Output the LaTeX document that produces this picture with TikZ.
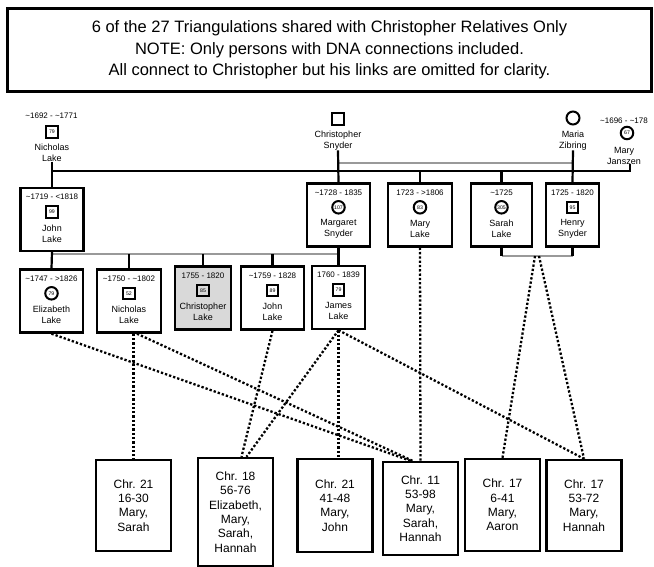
\documentclass[tikz,border=0pt]{standalone}
\usepackage{fontspec}
\setmainfont{Liberation Sans}
\usetikzlibrary{%
  positioning
 ,calc
}
\tikzstyle{title}=[draw,line width=2.4pt,minimum width=644pt,minimum height=83pt,align=center,inner sep=0pt,font=\fontsize{16.5}{21.5}\selectfont]
\tikzstyle{pbox}=[draw,line width=2.4pt,minimum height=63pt,inner sep=0pt]
\tikzstyle{dates}=[font=\fontsize{8}{9}\selectfont,inner sep=0pt]
\tikzstyle{pname}=[font=\fontsize{9}{11}\selectfont,align=center,inner sep=0pt]
\tikzstyle{male}=[draw,rectangle,line width=2pt,minimum size=11.5pt,inner sep=0pt,font=\fontsize{5.2}{6}\selectfont]
\tikzstyle{female}=[draw,circle,line width=2pt,minimum size=12.5pt,inner sep=0pt,font=\fontsize{5.2}{6}\selectfont]
\tikzstyle{chrbox}=[draw,line width=2.4pt,minimum width=75pt,align=center,inner sep=0pt,font=\fontsize{12}{14.3}\selectfont]
\tikzstyle{fam}=[line width=2.2pt]
\tikzstyle{spouse}=[line width=2pt,black!40]
\tikzstyle{dna}=[line width=2.3pt,dotted]
% box with dates, symbol and name
\newcommand{\person}[7]{%
  \node[pbox,#3] (#1) at #2 {};
  \node[dates] (#1-d) at ($(#1.north)+(0,10)$) {#4};
  \node[#5] (#1-s) at ($(#1.north)+(0,25)$) {#6};
  \node[pname] (#1-n) at ($(#1.north)+(0,46.5)$) {#7};
}

\begin{document}
\begin{tikzpicture}[x=1pt,y=-1pt]
  \useasboundingbox (0,0) rectangle (654,567);
  \node[title] (head) at (329.5,50) {6 of the 27 Triangulations shared with Christopher Relatives Only\\NOTE: Only persons with DNA connections included.\\All connect to Christopher but his links are omitted for clarity.};

  % oldest generation
  \node[dates] (nichT-d) at (51.5,116) {\textasciitilde1692 - \textasciitilde1771};
  \node[male] (nichT-s) at (52,132) {79};
  \node[pname] (nichT-n) at (52,152.5) {Nicholas\\Lake};
  \node[male,minimum size=12pt,line width=1.6pt] (csny-s) at (338,119) {};
  \node[pname] (csny-n) at (338,140.5) {Christopher\\Snyder};
  \node[female,minimum size=13pt] (maria-s) at (573,118) {};
  \node[pname] (maria-n) at (573,140.5) {Maria\\Zibring};
  \node[dates,anchor=west] (jansz-d) at (600,121) {\textasciitilde1696 - \textasciitilde178};
  \node[female] (jansz-s) at (627,133) {67};
  \node[pname] (jansz-n) at (624,155.5) {Mary\\Janszen};

  % children
  \person{jlakeA}{(52,219.5)}{minimum width=63pt}{\textasciitilde1719 - <1818}{male}{99}{John\\Lake}
  \person{margS}{(338.5,215)}{minimum width=63pt}{\textasciitilde1728 - 1835}{female}{107}{Margaret\\Snyder}
  \person{maryL}{(420,215)}{minimum width=64pt}{1723 - >1806}{female}{83}{Mary\\Lake}
  \person{sarahL}{(501.5,215)}{minimum width=61pt}{\textasciitilde1725}{female}{305}{Sarah\\Lake}
  \person{henryS}{(572.5,215)}{minimum width=53pt}{1725 - 1820}{male}{95}{Henry\\Snyder}

  % grandchildren
  \person{elizL}{(51.5,301)}{minimum width=63pt}{\textasciitilde1747 - >1826}{female}{79}{Elizabeth\\Lake}
  \person{nichL}{(129,301)}{minimum width=64pt}{\textasciitilde1750 - \textasciitilde1802}{male}{52}{Nicholas\\Lake}
  \person{chrisL}{(203,298)}{minimum width=56pt,fill=black!15}{1755 - 1820}{male}{85}{Christopher\\Lake}
  \person{jlakeB}{(272.5,298)}{minimum width=63pt}{\textasciitilde1759 - 1828}{male}{89}{John\\Lake}
  \person{jamesL}{(338.5,297.5)}{minimum width=53pt}{1760 - 1839}{male}{79}{James\\Lake}

  % triangulations
  \node[chrbox,minimum height=91pt] (chr21a) at (133.5,505.5) {Chr. 21\\16-30\\Mary,\\Sarah};
  \node[chrbox,minimum height=108pt] (chr18) at (235.5,512) {Chr. 18\\56-76\\Elizabeth,\\Mary,\\Sarah,\\Hannah};
  \node[chrbox,minimum height=93pt] (chr21b) at (335,505.5) {Chr. 21\\41-48\\Mary,\\John};
  \node[chrbox,minimum height=93pt] (chr11) at (420.5,508.5) {Chr. 11\\53-98\\Mary,\\Sarah,\\Hannah};
  \node[chrbox,minimum height=92pt] (chr17a) at (502.5,505) {Chr. 17\\6-41\\Mary,\\Aaron};
  \node[chrbox,minimum height=91pt] (chr17b) at (584,505.5) {Chr. 17\\53-72\\Mary,\\Hannah};

  % family lines
  \coordinate (bar) at (0,171);
  \coordinate (barR) at (630,171);
  \coordinate (wed) at (0,163);
  \coordinate (kids) at (0,254);
  \coordinate (sh) at (0,256);
  \draw[spouse] (csny-n.south |- wed) -- (maria-n.south |- wed);
  \draw[spouse] (jlakeA.south |- kids) -- (margS.south |- kids);
  \draw[spouse] (sarahL.south |- sh) -- (henryS.south |- sh);
  \draw[fam] (nichT-n.south) -- (jlakeA.north);
  \draw[fam] (nichT-n.south |- bar) -- (barR) -- (barR |- jansz-n.south);
  \draw[fam] (csny-n.south) -- (margS.north);
  \draw[fam] (maria-n.south) -- (henryS.north);
  \draw[fam] (maryL.north |- bar) -- (maryL.north);
  \draw[fam] (sarahL.north |- bar) -- (sarahL.north);
  \draw[fam] (jlakeA.south) -- (elizL.north);
  \draw[fam] (margS.south) -- (jamesL.north);
  \foreach \k in {nichL,chrisL,jlakeB}
    \draw[fam] (\k.north |- kids) -- (\k.north);
  \draw[fam] (sarahL.south) -- (sarahL.south |- sh);
  \draw[fam] (henryS.south) -- (henryS.south |- sh);
  \coordinate (shmid) at ($(sarahL.south |- sh)!0.5!(henryS.south |- sh)$);

  % shared segments
  \draw[dna] (elizL.south) -- ([xshift=-10pt]chr11.north);
  \draw[dna] (nichL.south -| chr21a.north) -- (chr21a.north);
  \draw[dna] ([xshift=8pt]nichL.south) -- ([xshift=-8pt]chr11.north);
  \draw[dna] (jlakeB.south) -- ([xshift=6pt]chr18.north);
  \draw[dna] (jamesL.south) -- ([xshift=11pt]chr18.north);
  \draw[dna] (jamesL.south) -- (jamesL.south |- chr21b.north);
  \draw[dna] (jamesL.south) -- (chr17b.north);
  \draw[dna] (maryL.south) -- (chr11.north);
  \draw[dna] ([xshift=-2pt]shmid) -- (chr17a.north);
  \draw[dna] ([xshift=2pt]shmid) -- (chr17b.north);
\end{tikzpicture}
\end{document}
